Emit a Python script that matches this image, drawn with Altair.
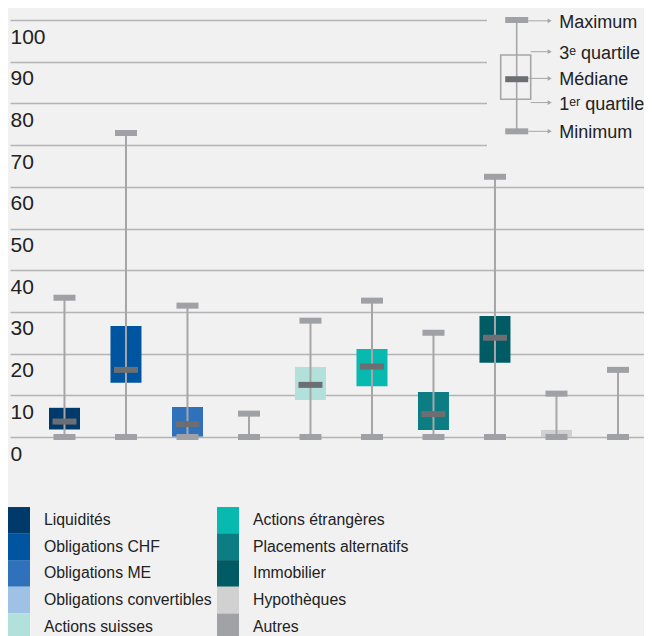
import altair as alt
import pandas as pd

categories = ["Liquidités", "Obligations CHF", "Obligations ME", "Obligations convertibles",
              "Actions suisses", "Actions étrangères", "Placements alternatifs",
              "Immobilier", "Hypothèques", "Autres"]
mins = [0, 0, 0, 0, 0, 0, 0, 0, 0, 0]
q1s = [1.8, 13.0, 0.1, None, 8.9, 12.2, 1.7, 17.8, 0.0, None]
medians = [3.7, 16.1, 3.1, None, 12.5, 16.9, 5.5, 23.8, None, None]
q3s = [7.0, 26.6, 7.2, None, 16.8, 21.1, 10.8, 29.0, 1.7, None]
maxs = [33.4, 72.9, 31.5, 5.6, 27.9, 32.7, 25.0, 62.4, 10.4, 16.1]
colors = ["#003a6b", "#0055a0", "#2f71bb", "#9ec1e5", "#b2e1db",
          "#07b9af", "#0c7e83", "#005b65", "#d0d1d0", "#a1a2a5"]

y_ticks = [0, 10, 20, 30, 40, 50, 60, 70, 80, 90, 100]

key_labels = ["Maximum", "3ᵉ quartile", "Médiane", "1ᵉʳ quartile", "Minimum"]
key_text_y = [99.8, 92.4, 86.0, 80.2, 73.3]
key_max, key_q3, key_med, key_q1, key_min = 100, 91.6, 85.8, 81.0, 73.3

FONT = "Liberation Sans, Arial, Helvetica, sans-serif"
W, H = 634, 417

df = pd.DataFrame({"cat": categories, "min": mins, "q1": q1s, "median": medians,
                   "q3": q3s, "max": maxs})

xs = alt.Scale(domain=categories, paddingInner=0.5, paddingOuter=0.4045, align=0.786)
ys = alt.Scale(domain=[0, 100], nice=False, zero=True)

X = alt.X("cat:N", scale=xs, axis=None, sort=categories)
yaxis = alt.Axis(values=y_ticks, grid=True, gridColor="#b4b4b7", gridWidth=1.6,
                 domain=False, ticks=False, tickSize=0, labelAlign="left",
                 labelBaseline="top", labelPadding=0, labelOffset=6,
                 labelFontSize=21, labelFont=FONT, labelColor="#222222", title=None)

base = alt.Chart(df)

boxes = base.mark_bar(size=31).encode(
    x=X,
    y=alt.Y("q1:Q", scale=ys, axis=yaxis),
    y2="q3:Q",
    color=alt.Color("cat:N", scale=alt.Scale(domain=categories, range=colors),
                    legend=alt.Legend(orient="none", legendX=-2, legendY=489, columns=2,
                                      title=None,
                                      symbolType="M-1,-1.21H1V1.21H-1Z", symbolSize=484,
                                      symbolStrokeWidth=0, symbolOpacity=1,
                                      labelFontSize=15.8, labelFont=FONT, labelColor="#222222",
                                      labelOffset=14, rowPadding=-1.3, columnPadding=5,
                                      padding=0, labelLimit=400)),
)

whiskers = base.mark_rule(color="#a6a6a9", strokeWidth=2).encode(
    x=X, y=alt.Y("min:Q", scale=ys), y2="max:Q")

med = base.mark_tick(color="#6d6e71", size=24, thickness=6, opacity=1).encode(
    x=X, y=alt.Y("median:Q", scale=ys))

capmax = base.mark_tick(color="#a0a1a4", size=22, thickness=6, opacity=1).encode(
    x=X, y=alt.Y("max:Q", scale=ys))
capmin = base.mark_tick(color="#a0a1a4", size=22, thickness=6, opacity=1).encode(
    x=X, y=alt.Y("min:Q", scale=ys))

# ---- key (explanatory schematic, top right) ----
one = alt.Chart(pd.DataFrame({"d": [0]}))
kx = 506.7
cover = one.mark_rect(color="#f1f1f1").encode(
    x=alt.value(477), x2=alt.value(W), y=alt.value(-12), y2=alt.value(130))

kdf = pd.DataFrame({"max": [key_max], "q3": [key_q3], "med": [key_med],
                    "q1": [key_q1], "min": [key_min]})
kb = alt.Chart(kdf)
k_whisk = kb.mark_rule(color="#a6a6a9", strokeWidth=1.6).encode(
    x=alt.value(kx), y=alt.Y("max:Q", scale=ys), y2="min:Q")
k_box = kb.mark_rect(fill=None, stroke="#a6a6a9", strokeWidth=1.6, fillOpacity=0).encode(
    x=alt.value(kx - 16), x2=alt.value(kx + 14), y=alt.Y("q3:Q", scale=ys), y2="q1:Q")
k_capmax = kb.mark_rect(color="#a0a1a4", yOffset=-3, y2Offset=3).encode(
    x=alt.value(kx - 11.5), x2=alt.value(kx + 11.5), y=alt.Y("max:Q", scale=ys), y2="max:Q")
k_capmin = kb.mark_rect(color="#a0a1a4", yOffset=-3, y2Offset=3).encode(
    x=alt.value(kx - 11.5), x2=alt.value(kx + 11.5), y=alt.Y("min:Q", scale=ys), y2="min:Q")
k_med = kb.mark_rect(color="#6d6e71", yOffset=-3, y2Offset=3).encode(
    x=alt.value(kx - 11.5), x2=alt.value(kx + 11.5), y=alt.Y("med:Q", scale=ys), y2="med:Q")

tdf = pd.DataFrame({"label": key_labels, "y": key_text_y,
                    "x0": [kx + 11.5, kx + 14, kx + 11.5, kx + 14, kx + 11.5]})
kt = alt.Chart(tdf)
k_arrow = kt.mark_rule(color="#a6a6a9", strokeWidth=1).encode(
    x=alt.X("x0:Q", scale=None), x2=alt.value(kx + 32), y=alt.Y("y:Q", scale=ys))
k_head = kt.mark_point(shape="triangle-right", filled=True, color="#a6a6a9",
                       size=22, opacity=1).encode(
    x=alt.value(kx + 33), y=alt.Y("y:Q", scale=ys))
k_text = kt.mark_text(align="left", baseline="middle", font=FONT, fontSize=18,
                      color="#222222", dy=2).encode(
    x=alt.value(kx + 42.5), y=alt.Y("y:Q", scale=ys), text="label:N")

chart = alt.layer(
    boxes, whiskers, med, capmax, capmin,
    cover, k_whisk, k_box, k_capmax, k_capmin, k_med, k_arrow, k_head, k_text
).properties(
    width=W, height=H,
    autosize=alt.AutoSizeParams(type="none"),
    padding={"left": 2, "top": 12, "right": 0, "bottom": 628 - 12 - H},
    background="#f1f1f1",
).configure_view(stroke=None, fill="#f1f1f1")

chart.save("out.html", embed_options={"renderer": "svg", "actions": False})
